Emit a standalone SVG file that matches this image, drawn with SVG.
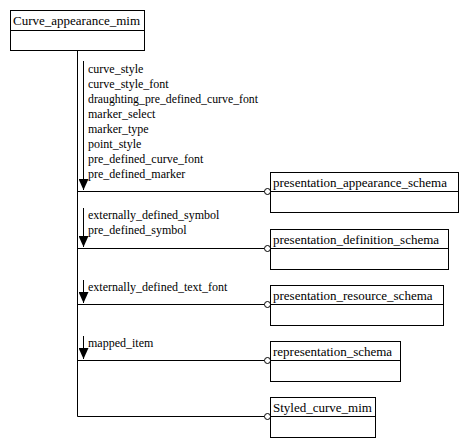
<svg xmlns="http://www.w3.org/2000/svg" width="468" height="448" viewBox="0 0 468 448">
<style>
text{font-family:'Liberation Serif','DejaVu Serif',serif;font-size:13px;fill:#000}
.lbl{font-size:12px}
.box{fill:#fff;stroke:#000;stroke-width:1}
.ln{fill:none;stroke:#000;stroke-width:1}
.circ{fill:#fff;stroke:#000;stroke-width:1}
</style>
<defs>
<marker id="ah" markerWidth="11" markerHeight="10" refX="11" refY="5" orient="auto" markerUnits="userSpaceOnUse" viewBox="0 0 11 10">
<path d="M0,0 L11,5 L0,10 Z" fill="#000"/>
</marker>
</defs>
<rect width="468" height="448" fill="#fff"/>
<g id="Curve_appearance_mim">
<rect class="box" x="10.5" y="10.5" width="134" height="40"/>
<line class="ln" x1="10.5" y1="30.5" x2="144.5" y2="30.5"/>
<text x="13" y="25">Curve_appearance_mim</text>
</g>
<g id="connectors">
<line class="ln" x1="77.5" y1="51" x2="77.5" y2="416.5"/>
<line class="ln" x1="77.5" y1="191.5" x2="264.5" y2="191.5"/>
<line class="ln" x1="77.5" y1="248.5" x2="264.5" y2="248.5"/>
<line class="ln" x1="77.5" y1="304.5" x2="264.5" y2="304.5"/>
<line class="ln" x1="77.5" y1="360.5" x2="264.5" y2="360.5"/>
<line class="ln" x1="77.5" y1="416.5" x2="264.5" y2="416.5"/>
<circle class="circ" cx="267.5" cy="191.5" r="3"/>
<circle class="circ" cx="267.5" cy="248.5" r="3"/>
<circle class="circ" cx="267.5" cy="304.5" r="3"/>
<circle class="circ" cx="267.5" cy="360.5" r="3"/>
<circle class="circ" cx="267.5" cy="416.5" r="3"/>
<line class="ln" x1="83.5" y1="61" x2="83.5" y2="190" marker-end="url(#ah)"/>
<line class="ln" x1="83.5" y1="208" x2="83.5" y2="247" marker-end="url(#ah)"/>
<line class="ln" x1="83.5" y1="280" x2="83.5" y2="303" marker-end="url(#ah)"/>
<line class="ln" x1="83.5" y1="336" x2="83.5" y2="359" marker-end="url(#ah)"/>
<text class="lbl" x="88" y="73">curve_style</text>
<text class="lbl" x="88" y="88">curve_style_font</text>
<text class="lbl" x="88" y="103" textLength="170" lengthAdjust="spacingAndGlyphs">draughting_pre_defined_curve_font</text>
<text class="lbl" x="88" y="118">marker_select</text>
<text class="lbl" x="88" y="133">marker_type</text>
<text class="lbl" x="88" y="148">point_style</text>
<text class="lbl" x="88" y="163">pre_defined_curve_font</text>
<text class="lbl" x="88" y="178">pre_defined_marker</text>
<text class="lbl" x="88" y="219">externally_defined_symbol</text>
<text class="lbl" x="88" y="234">pre_defined_symbol</text>
<text class="lbl" x="88" y="291">externally_defined_text_font</text>
<text class="lbl" x="88" y="347">mapped_item</text>
</g>
<g id="presentation_appearance_schema">
<rect class="box" x="270.5" y="172.5" width="188" height="40"/>
<line class="ln" x1="270.5" y1="191.5" x2="458.5" y2="191.5"/>
<text x="273" y="187">presentation_appearance_schema</text>
</g>
<g id="presentation_definition_schema">
<rect class="box" x="270.5" y="229.5" width="178" height="40"/>
<line class="ln" x1="270.5" y1="248.5" x2="448.5" y2="248.5"/>
<text x="273" y="244">presentation_definition_schema</text>
</g>
<g id="presentation_resource_schema">
<rect class="box" x="270.5" y="285.5" width="173" height="40"/>
<line class="ln" x1="270.5" y1="304.5" x2="443.5" y2="304.5"/>
<text x="273" y="300">presentation_resource_schema</text>
</g>
<g id="representation_schema">
<rect class="box" x="270.5" y="341.5" width="130" height="40"/>
<line class="ln" x1="270.5" y1="360.5" x2="400.5" y2="360.5"/>
<text x="273" y="356">representation_schema</text>
</g>
<g id="Styled_curve_mim">
<rect class="box" x="270.5" y="397.5" width="105" height="40"/>
<line class="ln" x1="270.5" y1="416.5" x2="375.5" y2="416.5"/>
<text x="273" y="412">Styled_curve_mim</text>
</g>
</svg>
